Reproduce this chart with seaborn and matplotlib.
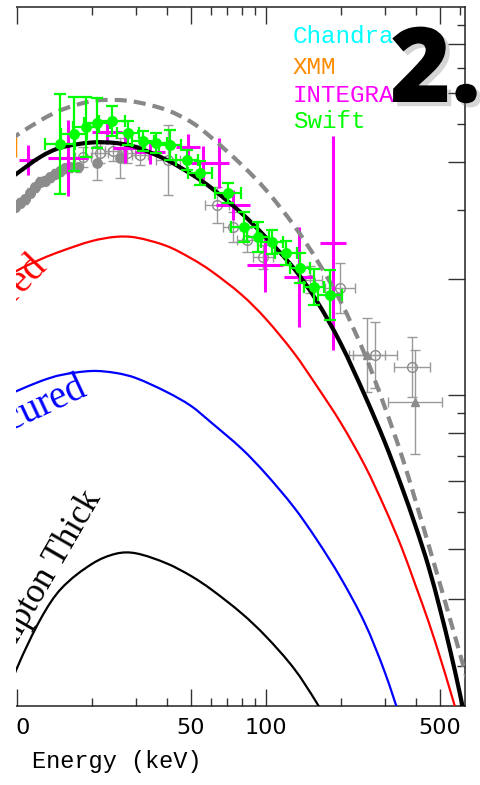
import numpy as np
import pandas as pd
import matplotlib
matplotlib.use("Agg")
import matplotlib.pyplot as plt
import seaborn as sns
from matplotlib import patheffects as pe
from matplotlib.ticker import FixedLocator, NullFormatter
from matplotlib.patches import Rectangle, PathPatch
from matplotlib.path import Path

# ---------------- data (E in keV, flux in E^2 dN/dE units) ----------------
E_grid = [8, 10, 12.5, 15, 20, 25, 30, 40, 50, 60, 80, 100, 130, 160, 200,
          250, 300, 350, 400, 450, 500, 550, 600, 650]
total_model = [29.75, 33.4, 37.35, 39.6, 40.96, 40.8, 39.76, 36.49, 33.28, 30.45,
               25.66, 21.9, 17.8, 14.41, 10.86, 7.71, 5.69, 4.26, 3.25, 2.50, 1.894,
               1.437, 1.09, 0.826]
obscured_model = [15.9, 17.6, 19.0, 20.0, 21.4, 22.0, 21.9, 20.7, 19.1, 17.6, 15.0,
                  12.8, 10.2, 8.23, 6.45, 4.86, 3.69, 2.85, 2.20, 1.74, 1.38, 1.104,
                  0.894, 0.729]
unobscured_model = [7.46, 7.97, 8.51, 8.85, 9.09, 8.97, 8.68, 7.91, 7.22, 6.49, 5.44,
                    4.61, 3.69, 2.99, 2.32, 1.72, 1.25, 0.90, 0.656, 0.50, 0.37, 0.27,
                    0.20, 0.15]
ct_model = [0.854, 1.284, 1.785, 2.161, 2.55, 2.728, 2.735, 2.557, 2.355, 2.161,
            1.839, 1.581, 1.276, 1.020, 0.773, 0.567, 0.428, 0.33, 0.25, 0.19, 0.14,
            0.105, 0.08, 0.06]
upper_model = [38.98, 43.02, 47.5, 50.7, 53.8, 54.2, 53.5, 50.7, 46.9, 42.46, 35.31,
               29.95, 23.63, 18.89, 14.32, 10.1, 7.17, 5.23, 3.835, 2.888, 2.234,
               1.762, 1.418, 1.156]

# Swift/BAT
E_swift = [14.9, 16.9, 18.9, 21.0, 24.1, 27.9, 32.1, 36.2, 41.2, 48.2, 54.3, 70.4,
           81.6, 92.9, 105.7, 120.3, 136.9, 155.9, 180.7]
F_swift = [40.6, 43.3, 45.4, 46.6, 47.2, 43.6, 41.4, 40.8, 40.3, 36.5, 33.5, 29.4,
           23.5, 22.0, 21.3, 19.8, 17.9, 15.8, 15.0]
yfac_swift = [1.39, 1.276, 1.218, 1.179, 1.104, 1.082, 1.068, 1.068, 1.104, 1.068,
              1.082, 1.068, 1.104, 1.104, 1.082, 1.082, 1.104, 1.126, 1.179]
xfac_swift = [1.15, 1.13, 1.13, 1.13, 1.13, 1.11, 1.11, 1.11, 1.11, 1.11, 1.12, 1.13,
              1.13, 1.11, 1.11, 1.11, 1.10, 1.10, 1.12]

# INTEGRAL
E_int = [11.1, 16.0, 23.0, 27.1, 34.2, 48.6, 55.8, 64.8, 73.7, 99.1, 135.7, 185.8]
F_int = [36.5, 37.0, 43.9, 39.5, 38.5, 39.8, 35.8, 35.8, 27.1, 18.3, 16.9, 21.1]
yfac_int = [1.104, 1.284, 1.082, 1.104, 1.082, 1.09, 1.118, 1.179, 1.104, 1.195,
            1.39, 2.024]
xfac_int = [1.087, 1.203, 1.149, 1.117, 1.149, 1.117, 1.117, 1.097, 1.17, 1.181,
            1.149, 1.128]

# other (grey) data sets
E_open = [18.4, 21.5, 24.3, 27.7, 31.2, 40.4, 63.6, 73.7, 83.9, 97.3, 150.2, 198.3,
          274.1, 385.8]
F_open = [37.2, 38.2, 38.7, 38.2, 37.7, 36.5, 27.1, 23.5, 21.5, 19.3, 16.6, 15.7,
          10.1, 9.33]
yfac_open = [1.068, 1.068, 1.068, 1.068, 1.068, 1.259, 1.126, 1.104, 1.082, 1.082,
             1.09, 1.179, 1.243, 1.218]
xfac_open = [1.077, 1.077, 1.077, 1.077, 1.077, 1.117, 1.117, 1.097, 1.097, 1.097,
             1.117, 1.149, 1.226, 1.181]

E_tri = [254.4, 396.6]
F_tri = [10.1, 7.41]
yfac_tri = [1.276, 1.409]
xfac_tri = [1.181, 1.284]

E_band = [8.95, 9.37, 9.82, 10.28, 10.77, 11.28, 11.81, 12.37, 12.95, 13.57, 14.21,
          14.88, 15.59, 16.33, 17.58]
F_band = [25.9, 26.4, 26.8, 27.5, 28.2, 29.4, 30.5, 31.6, 31.8, 32.6, 33.3, 33.9,
          34.6, 34.8, 34.8]

E_big = [21.0, 25.9]
F_big = [35.8, 37.0]
yfac_big = [1.118, 1.141]

E_xmm = [9.82]
F_xmm = [40.3]
yfac_xmm = [1.082]

x_major = [1, 5, 10, 50, 100, 500]
x_major_labels = ["1", "5", "10", "50", "100", "500"]
x_minor = [2, 3, 4, 6, 7, 8, 9, 20, 30, 40, 60, 70, 80, 90, 200, 300, 400, 600]
y_major = [78.4, 56.8, 36.0, 16.7, 7.76, 6.04, 4.40, 2.81, 2.02]
y_minor = [88.8, 66.9, 46.3, 26.3, 6.89, 5.19, 3.59, 1.30]

legend_names = ["Chandra", "XMM", "INTEGRAL", "Swift"]
legend_colors = ["#00FFFF", "#FF8C00", "#FF00FF", "#00FF00"]

# ---------------- figure ----------------
sns.set_style("ticks")
plt.rcParams["font.family"] = ["DejaVu Sans"]

fig = plt.figure(figsize=(4.81, 7.85), dpi=100)
ax = fig.add_axes([-232 / 481, 79 / 785, 697 / 481, 699 / 785])
ax.set_xscale("log")
ax.set_yscale("log")
ax.set_xlim(1, 630)
ax.set_ylim(1, 100)


def yerr(F, fac):
    F = np.asarray(F, float); fac = np.asarray(fac, float)
    return np.vstack([F - F / fac, F * fac - F])


def smooth_path(x, y):
    """Smooth (cubic Hermite in log-log space) path through the given points."""
    lx = np.log10(np.asarray(x, float)); ly = np.log10(np.asarray(y, float))
    n = len(lx)
    m = np.empty(n)
    m[1:-1] = (ly[2:] - ly[:-2]) / (lx[2:] - lx[:-2])
    m[0] = (ly[1] - ly[0]) / (lx[1] - lx[0])
    m[-1] = (ly[-1] - ly[-2]) / (lx[-1] - lx[-2])
    verts = [(lx[0], ly[0])]
    codes = [Path.MOVETO]
    for i in range(n - 1):
        h = lx[i + 1] - lx[i]
        verts += [(lx[i] + h / 3, ly[i] + m[i] * h / 3),
                  (lx[i + 1] - h / 3, ly[i + 1] - m[i + 1] * h / 3),
                  (lx[i + 1], ly[i + 1])]
        codes += [Path.CURVE4] * 3
    return Path(10 ** np.array(verts), codes)


grey_e = "#9a9a9a"
grey_m = "#8c8c8c"
# grey data
ax.errorbar(E_band, F_band, yerr=yerr(F_band, [1.03] * len(F_band)),
            xerr=yerr(E_band, [1.02] * len(E_band)), fmt="none",
            ecolor=grey_e, elinewidth=1, capsize=2, zorder=2)
sns.scatterplot(x=E_band, y=F_band, ax=ax, color=grey_m, s=64, linewidth=0,
                zorder=2.1)
ax.errorbar(E_big, F_big, yerr=yerr(F_big, yfac_big), fmt="none",
            ecolor=grey_e, elinewidth=1, capsize=3.5, zorder=2)
sns.scatterplot(x=E_big, y=F_big, ax=ax, color=grey_m, s=60, linewidth=0,
                zorder=2.1)
ax.errorbar(E_open, F_open, yerr=yerr(F_open, yfac_open),
            xerr=yerr(E_open, xfac_open), fmt="o", ms=7, mfc="none",
            mec=grey_m, mew=1, ecolor=grey_e, elinewidth=1, capsize=3.5,
            zorder=2)
ax.errorbar(E_tri, F_tri, yerr=yerr(F_tri, yfac_tri), xerr=yerr(E_tri, xfac_tri),
            fmt="^", ms=6, mfc=grey_m, mec=grey_m, ecolor=grey_e,
            elinewidth=1, capsize=3.5, zorder=2)

# INTEGRAL
ax.errorbar(E_int, F_int, yerr=yerr(F_int, yfac_int), xerr=yerr(E_int, xfac_int),
            fmt="none", ecolor="#FF00FF", elinewidth=2.2, capsize=0, zorder=3)
# XMM
ax.errorbar(E_xmm, F_xmm, yerr=yerr(F_xmm, yfac_xmm), fmt="none",
            ecolor="#FF8C00", elinewidth=2.5, capsize=0, zorder=3)

# model curves (drawn as smooth paths through the tabulated values)
curves = [
    (upper_model, "#888888", 3.0, (0, (2.9, 1.7)), 4),
    (obscured_model, "#FF0000", 1.6, "-", 4),
    (unobscured_model, "#0000FF", 1.6, "-", 4),
    (ct_model, "#000000", 1.6, "-", 4),
    (total_model, "#000000", 3.0, "-", 4.5),
]
for vals, col, lw, ls, z in curves:
    ax.add_patch(PathPatch(smooth_path(E_grid, vals), fill=False, edgecolor=col,
                           linewidth=lw, linestyle=ls, zorder=z, capstyle="butt",
                           joinstyle="round"))

# Swift
ax.errorbar(E_swift, F_swift, yerr=yerr(F_swift, yfac_swift),
            xerr=yerr(E_swift, xfac_swift), fmt="none", ecolor="#00FF00",
            elinewidth=1.6, capsize=4, capthick=1.6, zorder=5)
sns.scatterplot(x=E_swift, y=F_swift, ax=ax, color="#00FF00", s=62, linewidth=0,
                zorder=5.1)

# curve labels
lab_kw = dict(family="Liberation Serif", ha="right", va="baseline",
              rotation_mode="anchor", zorder=6)
ax.text(13.3, 18.0, "Obscured", color="#FF0000", rotation=46, fontsize=28, **lab_kw)
ax.text(19.3, 7.76, "Unobscured", color="#0000FF", rotation=25, fontsize=28,
        **lab_kw)
ax.text(21.75, 3.94, "Compton Thick", color="#000000", rotation=60, fontsize=25,
        **lab_kw)

ax.set_xlim(1, 630)
ax.set_ylim(1, 100)

# axes styling
ax.xaxis.set_major_locator(FixedLocator(x_major))
ax.set_xticklabels(x_major_labels)
ax.xaxis.set_minor_locator(FixedLocator(x_minor))
ax.xaxis.set_minor_formatter(NullFormatter())
ax.yaxis.set_major_locator(FixedLocator(y_major))
ax.yaxis.set_minor_locator(FixedLocator(y_minor))
ax.yaxis.set_major_formatter(NullFormatter())
ax.yaxis.set_minor_formatter(NullFormatter())
ax.tick_params(axis="both", which="both", direction="in", top=True, bottom=True,
               left=True, right=True, labelleft=False, labelright=False,
               labeltop=False, color="#333333", width=1.0)
ax.tick_params(axis="both", which="major", length=12)
ax.tick_params(axis="both", which="minor", length=6)
ax.tick_params(axis="x", which="major", labelsize=16, pad=8.5, labelcolor="black")
for s in ax.spines.values():
    s.set_visible(True)
    s.set_linewidth(1.1)
    s.set_color("#222222")
ax.set_xlabel("")
ax.set_ylabel("")

fig.text(117 / 481, 1 - 768 / 785, "Energy (keV)", family="Liberation Mono",
         fontsize=17, ha="center", va="baseline", color="black")

# legend texts
base = [43, 74, 102, 128]
for name, col, b in zip(legend_names, legend_colors, base):
    fig.text(293 / 481, 1 - b / 785, name, color=col, family="Liberation Mono",
             fontsize=17.5, ha="left", va="baseline", zorder=4)

# panel number
fig.text(390 / 481, 1 - 102 / 785, "2.", family="Open Sans", fontweight="heavy",
         fontsize=75, ha="left", va="baseline", color="black", zorder=8,
         path_effects=[pe.withSimplePatchShadow(offset=(3, -3),
                                                shadow_rgbFace="#777777",
                                                alpha=0.3)])

# blank margin on the left (cropped original)
fig.add_artist(Rectangle((0, 0), 16 / 481, 1, transform=fig.transFigure,
                         facecolor="white", edgecolor="none", zorder=10))

fig.savefig("out.png", dpi=100)
